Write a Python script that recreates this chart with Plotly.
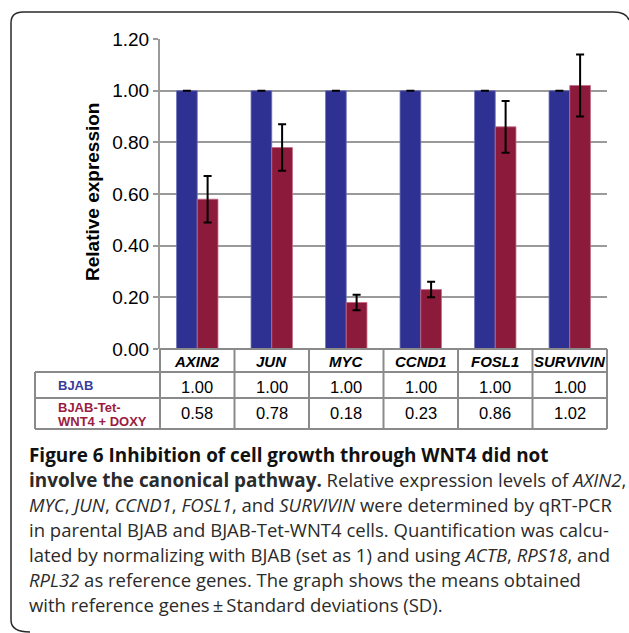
import plotly.graph_objects as go

# ---- data ----
genes = ["AXIN2", "JUN", "MYC", "CCND1", "FOSL1", "SURVIVIN"]
bjab = [1.00, 1.00, 1.00, 1.00, 1.00, 1.00]
bjab_sd = [0.0, 0.0, 0.0, 0.0, 0.0, 0.0]
tet = [0.58, 0.78, 0.18, 0.23, 0.86, 1.02]
tet_sd = [0.09, 0.09, 0.03, 0.03, 0.10, 0.12]
series_names = ["BJAB", "BJAB-Tet-WNT4 + DOXY"]
y_ticks = [0.0, 0.2, 0.4, 0.6, 0.8, 1.0, 1.2]

caption_lines = [
    "<b>Figure 6 Inhibition of cell growth through WNT4 did not</b>",
    "<b>involve the canonical pathway.</b> Relative expression levels of <i>AXIN2</i>,",
    "<i>MYC</i>, <i>JUN</i>, <i>CCND1</i>, <i>FOSL1</i>, and <i>SURVIVIN</i> were determined by qRT-PCR",
    "in parental BJAB and BJAB-Tet-WNT4 cells. Quantification was calcu-",
    "lated by normalizing with BJAB (set as 1) and using <i>ACTB</i>, <i>RPS18</i>, and",
    "<i>RPL32</i> as reference genes. The graph shows the means obtained",
    "with reference genes\u2009\u00b1\u2009Standard deviations (SD).",
]

# ---- geometry (pixels) ----
W, H = 629, 633
PX0, PX1 = 160, 607        # plot area left/right
PY_TOP, PY_BOT = 39, 349   # plot area top (1.20) / bottom (0.00)
TABLE_LEFT = 35
ROW_Y = [349, 372, 398, 429]

BLUE = "#2e3192"
RED = "#8c1a3b"
GRID = "#9a9a9a"
AXFONT = "Liberation Sans, Arial, sans-serif"
CAPFONT = "Open Sans, sans-serif"


def px(x):
    return x / W


def py(y):
    return 1 - y / H


def label(x, y, text, size, color="black", xanchor="center", **kw):
    return dict(x=px(x), y=py(y), xref="paper", yref="paper", showarrow=False,
                xanchor=xanchor, yanchor="middle", text=text,
                font=dict(family=kw.pop("family", AXFONT), size=size, color=color), **kw)


fig = go.Figure()
fig.add_trace(go.Bar(
    x=genes, y=bjab, name=series_names[0],
    marker=dict(color=BLUE, line=dict(color="#6f72b8", width=0.8)),
    error_y=dict(type="data", array=bjab_sd, color="black", thickness=2, width=4),
))
fig.add_trace(go.Bar(
    x=genes, y=tet, name=series_names[1],
    marker=dict(color=RED, line=dict(color="#c46a86", width=0.8)),
    error_y=dict(type="data", array=tet_sd, color="black", thickness=2, width=4),
))

shapes = []
annotations = []

# data table grid under the bars
col_w = (PX1 - PX0) / len(genes)
col_x = [PX0 + i * col_w for i in range(len(genes) + 1)]
line_style = dict(color="#8a8a8a", width=2)
shapes.append(dict(type="line", xref="paper", yref="paper",
                   x0=px(PX0), x1=px(PX1), y0=py(ROW_Y[0]), y1=py(ROW_Y[0]), line=line_style))
for yy in ROW_Y[1:]:
    shapes.append(dict(type="line", xref="paper", yref="paper",
                       x0=px(TABLE_LEFT), x1=px(PX1), y0=py(yy), y1=py(yy), line=line_style))
for xx in col_x:
    shapes.append(dict(type="line", xref="paper", yref="paper",
                       x0=px(xx), x1=px(xx), y0=py(ROW_Y[0]), y1=py(ROW_Y[3]), line=line_style))
shapes.append(dict(type="line", xref="paper", yref="paper",
                   x0=px(TABLE_LEFT), x1=px(TABLE_LEFT), y0=py(ROW_Y[1]), y1=py(ROW_Y[3]), line=line_style))

# rounded figure frame
frame = (f"M {px(30)},{py(632)} Q {px(11)},{py(632)} {px(11)},{py(620)} "
         f"L {px(11)},{py(23)} Q {px(11)},{py(12)} {px(23)},{py(12)} "
         f"L {px(614)},{py(12)} Q {px(626)},{py(12)} {px(629)},{py(20)}")
shapes.append(dict(type="path", xref="paper", yref="paper", path=frame,
                   line=dict(color="#2a2a2a", width=1.5)))

# table text
for i, g in enumerate(genes):
    cx = (col_x[i] + col_x[i + 1]) / 2
    annotations.append(label(cx, 361.5, f"<b><i>{g}</i></b>", 15))
    annotations.append(label(cx, 387, f"{bjab[i]:.2f}", 16.5))
    annotations.append(label(cx, 412.5, f"{tet[i]:.2f}", 16.5))

annotations.append(label(56, 385, f"<b>{series_names[0]}</b>", 13, "#3a3c9c", xanchor="left"))
red_label = series_names[1].split("-", 2)
annotations.append(label(56, 407, f"<b>{red_label[0]}-{red_label[1]}-</b>", 13, "#9a1c42", xanchor="left"))
annotations.append(label(56, 421.5, f"<b>{red_label[2]}</b>", 13, "#9a1c42", xanchor="left"))

# y axis title
annotations.append(label(92, 192, "<b>Relative expression</b>", 19, textangle=-90))

# caption
cap_y = [455, 480, 505, 529.5, 554, 579, 604]
for i, (line, yy) in enumerate(zip(caption_lines, cap_y)):
    line = line.replace("<b>", "<b><span style='font-size:18.9px'>").replace("</b>", "</span></b>")
    annotations.append(label(27, yy, line, 18.5, "#111111" if i == 0 else "#2b2b2b",
                             xanchor="left", family=CAPFONT))

fig.update_layout(
    width=W, height=H,
    margin=dict(l=0, r=0, t=0, b=0, autoexpand=False),
    paper_bgcolor="white", plot_bgcolor="white",
    barmode="group", bargap=0.444, bargroupgap=0,
    showlegend=False,
    shapes=shapes, annotations=annotations,
    xaxis=dict(domain=[px(PX0), px(PX1)], showticklabels=False, showline=False,
               showgrid=False, zeroline=False, ticks="", automargin=False),
    yaxis=dict(domain=[py(PY_BOT), py(PY_TOP)], range=[0, 1.2], automargin=False,
               tickvals=y_ticks, ticktext=[f"{v:.2f}" for v in y_ticks],
               showgrid=True, gridcolor=GRID, gridwidth=2,
               showline=True, linecolor=GRID, linewidth=2,
               zeroline=False,
               ticks="outside", ticklen=5, tickwidth=2, tickcolor=GRID,
               tickfont=dict(family=AXFONT, size=19, color="black")),
)

fig.write_html("out.html")
